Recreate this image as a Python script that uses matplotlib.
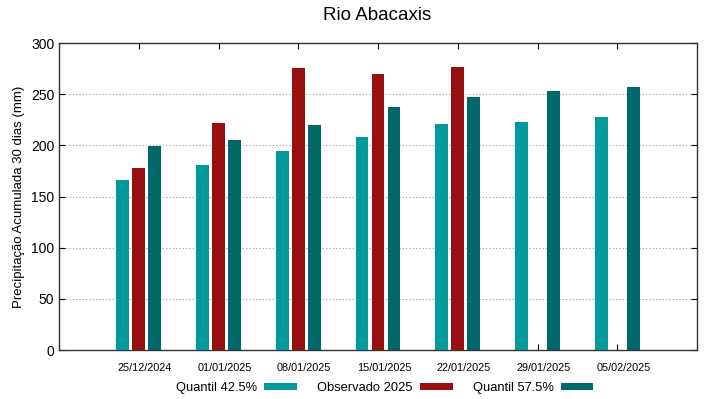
import numpy as np
import matplotlib
matplotlib.use("Agg")
import matplotlib.pyplot as plt
import matplotlib.transforms as mtransforms

plt.rcParams['font.family'] = ['Liberation Sans', 'DejaVu Sans']

datas = ["25/12/2024", "01/01/2025", "08/01/2025", "15/01/2025", "22/01/2025", "29/01/2025", "05/02/2025"]
q425 = [166.5, 180.5, 194.5, 207.8, 220.9, 222.5, 227.4]
obs2025 = [177.5, 221.8, 275.6, 269.4, 276.2, np.nan, np.nan]
q575 = [199.3, 205.5, 219.6, 237.5, 247.6, 253.1, 257.0]

fig = plt.figure(figsize=(7.19, 3.99), dpi=100)
ax = fig.add_axes([0.0821, 0.1228, 0.8873, 0.7694])

x = np.arange(len(datas))
w = 0.16
b1 = ax.bar(x - 0.2, q425, w, color="#009a9a", label="Quantil 42.5%", zorder=3)
b2 = ax.bar(x, obs2025, w, color="#990e0e", label="Observado 2025", zorder=3)
b3 = ax.bar(x + 0.2, q575, w, color="#006868", label="Quantil 57.5%", zorder=3)

ax.set_xlim(-1, 7)
ax.set_ylim(0, 300)
ax.set_yticks(range(0, 301, 50))
ax.set_xticks(x)
ax.set_xticklabels(datas, fontsize=7.8)
ax.tick_params(axis="y", labelsize=10, direction="in", length=4, right=True)
ax.tick_params(axis="x", direction="in", length=4, top=True, pad=9)
# labels sit a bit right of the ticks, like gnuplot
shift = mtransforms.ScaledTranslation(6 / 100, 0, fig.dpi_scale_trans)
for lab in ax.get_xticklabels():
    lab.set_transform(lab.get_transform() + shift)
for yv in range(50, 300, 50):
    ax.axhline(yv, color="#999999", lw=0.8, ls=(0, (1, 2)), zorder=1)
for s in ax.spines.values():
    s.set_color("#333333")
    s.set_linewidth(1)

ax.set_ylabel("Precipitação Acumulada 30 dias (mm)", fontsize=9.5, labelpad=4)
fig.text(0.525, 0.962, "Rio Abacaxis", fontsize=13.5, ha="center", va="center")

fig.legend(handles=[b1, b2, b3], loc="center", bbox_to_anchor=(0.535, 0.028),
           ncol=3, frameon=False, markerfirst=False, fontsize=9.3,
           handlelength=2.55, handleheight=0.45, columnspacing=1.55, handletextpad=0.55)

fig.savefig("out.png", dpi=100)
